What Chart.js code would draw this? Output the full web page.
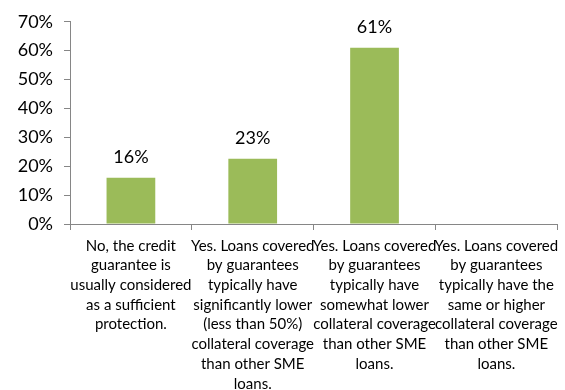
<!DOCTYPE html>
<html>
<head>
<meta charset="utf-8">
<script src="https://cdn.jsdelivr.net/npm/chart.js@4"></script>
<style>
  html, body { margin: 0; padding: 0; background: #fff; }
  #wrap { width: 565px; height: 390px; }
</style>
</head>
<body>
<div id="wrap"><canvas id="chart" width="565" height="390"></canvas></div>
<script>
// Categorías (con los saltos de línea del original)
const categories = [
    ['No, the credit', 'guarantee is', 'usually considered', 'as a sufficient', 'protection.'],
    ['Yes. Loans covered', 'by guarantees', 'typically have', 'significantly lower', '(less than 50%)', 'collateral coverage', 'than other SME', 'loans.'],
    ['Yes. Loans covered', 'by guarantees', 'typically have', 'somewhat lower', 'collateral coverage', 'than other SME', 'loans.'],
    ['Yes. Loans covered', 'by guarantees', 'typically have the', 'same or higher', 'collateral coverage', 'than other SME', 'loans.']
];
// Valores en porcentaje
const values = [16, 22.6, 61, 0];
// Eje Y
const yMin = 0;
const yMax = 70;
const yStep = 10;

const axisColor = '#868686';
const fontFamily = 'Lato, "Open Sans", sans-serif';

// Etiquetas encima de las barras
const barLabels = {
    id: 'barLabels',
    afterDatasetsDraw(chart) {
        const ctx = chart.ctx;
        const meta = chart.getDatasetMeta(0);
        ctx.save();
        ctx.font = '18px ' + fontFamily;
        ctx.fillStyle = '#000';
        ctx.textAlign = 'center';
        ctx.textBaseline = 'middle';
        meta.data.forEach((bar, i) => {
            const v = values[i];
            if (!v) return;
            ctx.fillText(Math.round(v) + '%', bar.x, bar.y - 20.5);
        });
        ctx.restore();
    }
};

new Chart(document.getElementById('chart').getContext('2d'), {
    type: 'bar',
    data: {
        labels: categories,
        datasets: [{
            data: values,
            backgroundColor: '#9BBB59',
            borderWidth: 0,
            categoryPercentage: 1,
            barPercentage: 0.4
        }]
    },
    options: {
        responsive: false,
        animation: false,
        layout: { padding: { top: 21, right: 7, left: 0, bottom: 0 } },
        plugins: {
            legend: { display: false },
            tooltip: { enabled: false }
        },
        scales: {
            x: {
                offset: true,
                grid: {
                    offset: true,
                    drawOnChartArea: false,
                    drawTicks: true,
                    tickLength: 6,
                    color: axisColor
                },
                border: { color: axisColor, width: 1 },
                ticks: {
                    color: '#000',
                    padding: 6,
                    maxRotation: 0,
                    minRotation: 0,
                    autoSkip: false,
                    font: { family: fontFamily, size: 15, lineHeight: '19.7px' }
                },
                afterFit(scale) { scale.height = 166; }
            },
            y: {
                min: yMin,
                max: yMax,
                grid: {
                    drawOnChartArea: false,
                    drawTicks: true,
                    tickLength: 6,
                    color: axisColor
                },
                border: { color: axisColor, width: 1 },
                ticks: {
                    stepSize: yStep,
                    color: '#000',
                    padding: 11,
                    font: { family: fontFamily, size: 18 },
                    callback: v => v + '%'
                },
                afterFit(scale) { scale.width = 70; }
            }
        }
    },
    plugins: [barLabels]
});
</script>
</body>
</html>
